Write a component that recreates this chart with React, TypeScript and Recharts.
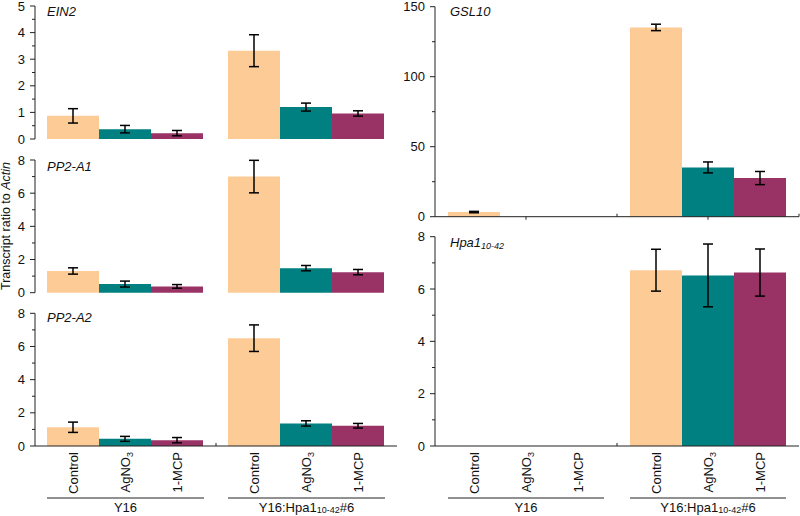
import React from 'react';
import { BarChart, Bar, XAxis, YAxis, ErrorBar } from 'recharts';

// ---- data ----
const GROUPS = ['Y16', 'Y16:Hpa1_10-42#6'];
const GROUP_LABEL_PARTS = [['Y16', '', ''], ['Y16:Hpa1', '10-42', '#6']];
const TREATMENTS = ['Control', 'AgNO3', '1-MCP'];
const COLORS = ['#FCCB96', '#008080', '#993366'];

const EIN2_Y16 = [0.87, 0.37, 0.22];
const EIN2_Y16_SD = [0.27, 0.14, 0.1];
const EIN2_HPA = [3.32, 1.2, 0.96];
const EIN2_HPA_SD = [0.6, 0.15, 0.1];

const PP2A1_Y16 = [1.31, 0.52, 0.38];
const PP2A1_Y16_SD = [0.19, 0.18, 0.11];
const PP2A1_HPA = [7.0, 1.48, 1.24];
const PP2A1_HPA_SD = [0.98, 0.16, 0.16];

const PP2A2_Y16 = [1.13, 0.43, 0.35];
const PP2A2_Y16_SD = [0.31, 0.15, 0.16];
const PP2A2_HPA = [6.5, 1.36, 1.22];
const PP2A2_HPA_SD = [0.8, 0.16, 0.14];

const GSL10_Y16 = [3.3, null, null];
const GSL10_Y16_SD = [0.5, null, null];
const GSL10_HPA = [135.2, 35.2, 27.6];
const GSL10_HPA_SD = [2.3, 3.9, 4.7];

const HPA1_Y16 = [null, null, null];
const HPA1_Y16_SD = [null, null, null];
const HPA1_HPA = [6.72, 6.52, 6.63];
const HPA1_HPA_SD = [0.8, 1.2, 0.9];

const TICKS_5 = [0, 0.5, 1, 1.5, 2, 2.5, 3, 3.5, 4, 4.5, 5];
const TICKS_8 = [0, 1, 2, 3, 4, 5, 6, 7, 8];
const TICKS_150 = [0, 25, 50, 75, 100, 125, 150];

function buildRows(y16: any[], y16sd: any[], hpa: any[], hpasd: any[]) {
  return [
    { group: GROUPS[0], v0: y16[0], v1: y16[1], v2: y16[2], e0: y16sd[0], e1: y16sd[1], e2: y16sd[2] },
    { group: GROUPS[1], v0: hpa[0], v1: hpa[1], v2: hpa[2], e0: hpasd[0], e1: hpasd[1], e2: hpasd[2] },
  ];
}

const FONT = '"Liberation Sans", Arial, Helvetica, sans-serif';
const AXIS = '#222';

function YTick(props: any) {
  const { x, y, payload, majorStep } = props;
  const v = payload.value;
  const major = Math.abs(v / majorStep - Math.round(v / majorStep)) < 1e-6;
  const ax = x + 10;
  return (
    <g>
      <line x1={ax - (major ? 5 : 3)} x2={ax} y1={y} y2={y} stroke={AXIS} strokeWidth={1} />
      {major && (
        <text x={x} y={y} dy="0.35em" textAnchor="end" fontSize={13} fill="#111" fontFamily={FONT}>
          {v}
        </text>
      )}
    </g>
  );
}

function GroupTick(props: any) {
  const { x, y, index, band, gap, labels, centerTick } = props;
  const barW = (band - 2 * gap) / 3;
  const parts = GROUP_LABEL_PARTS[index];
  return (
    <g>
      {index === 0 && <line x1={x + band / 2} x2={x + band / 2} y1={y} y2={y - 3} stroke={AXIS} />}
      {index === 1 && centerTick && <line x1={x + band / 2} x2={x + band / 2} y1={y} y2={y - 3} stroke={AXIS} />}
      {centerTick && <line x1={x} x2={x} y1={y} y2={y + 3} stroke={AXIS} />}
      {labels &&
        TREATMENTS.map((t, i) => {
          const cx = x + (i - 1) * barW + 4.5;
          const cy = y + 6;
          return (
            <text
              key={t}
              x={cx}
              y={cy}
              transform={`rotate(-90 ${cx} ${cy})`}
              textAnchor="end"
              fontSize={13}
              fill="#111"
              fontFamily={FONT}
            >
              {t === 'AgNO3' ? (
                <>
                  AgNO<tspan fontSize={9} dy={3}>3</tspan>
                </>
              ) : (
                t
              )}
            </text>
          );
        })}
      {labels && (
        <line x1={x - 1.5 * barW} x2={x + 1.5 * barW} y1={y + 52} y2={y + 52} stroke={AXIS} strokeWidth={1} />
      )}
      {labels && (
        <text x={x} y={y + 65.5} textAnchor="middle" fontSize={13} fill="#111" fontFamily={FONT}>
          {parts[0]}
          {parts[1] && (
            <tspan fontSize={9} dy={1.5}>
              {parts[1]}
            </tspan>
          )}
          {parts[2] && <tspan dy={-1.5}>{parts[2]}</tspan>}
        </text>
      )}
    </g>
  );
}

function Panel(props: any) {
  const { left, top, width, height, margin, data, domain, ticks, majorStep, xMode, band, gap } = props;
  return (
    <div style={{ position: 'absolute', left, top, width, height }}>
      <BarChart width={width} height={height} data={data} margin={margin} barCategoryGap={gap} barGap={0}>
        {xMode === 'hide' ? (
          <XAxis dataKey="group" hide />
        ) : (
          <XAxis
            dataKey="group"
            interval={0}
            tickLine={false}
            tickSize={0}
            tickMargin={0}
            height={xMode === 'labels' ? 70 : 8.3}
            axisLine={{ stroke: AXIS }}
            tick={(p: any) => (
              <GroupTick {...p} band={band} gap={gap} labels={xMode === 'labels'} centerTick={xMode === 'ticks'} />
            )}
          />
        )}
        <YAxis
          type="number"
          domain={domain}
          ticks={ticks}
          interval={0}
          width={35}
          tickLine={false}
          tickSize={5}
          tickMargin={5}
          axisLine={{ stroke: AXIS }}
          tick={(p: any) => <YTick {...p} majorStep={majorStep} />}
        />
        {[0, 1, 2].map((i) => (
          <Bar key={i} dataKey={`v${i}`} fill={COLORS[i]} isAnimationActive={false}>
            <ErrorBar dataKey={`e${i}`} width={5} stroke="#000" strokeWidth={1.5} isAnimationActive={false} />
          </Bar>
        ))}
      </BarChart>
    </div>
  );
}

export default function App() {
  return (
    <div style={{ position: 'absolute', left: 0, top: 0, width: 800, height: 516, background: '#fff', fontFamily: FONT }}>
      <Panel
        left={0} top={0} width={400} height={150}
        margin={{ top: 6, right: 3, bottom: 11, left: 0 }}
        data={buildRows(EIN2_Y16, EIN2_Y16_SD, EIN2_HPA, EIN2_HPA_SD)}
        domain={[0, 5]} ticks={TICKS_5} majorStep={1} xMode="hide" band={181} gap={12}
      />
      <Panel
        left={0} top={150} width={400} height={155}
        margin={{ top: 10, right: 3, bottom: 12.3, left: 0 }}
        data={buildRows(PP2A1_Y16, PP2A1_Y16_SD, PP2A1_HPA, PP2A1_HPA_SD)}
        domain={[0, 8]} ticks={TICKS_8} majorStep={2} xMode="hide" band={181} gap={12}
      />
      <Panel
        left={0} top={300} width={400} height={216}
        margin={{ top: 13.3, right: 3, bottom: 0, left: 0 }}
        data={buildRows(PP2A2_Y16, PP2A2_Y16_SD, PP2A2_HPA, PP2A2_HPA_SD)}
        domain={[0, 8]} ticks={TICKS_8} majorStep={2} xMode="labels" band={181} gap={12}
      />
      <Panel
        left={400} top={0} width={400} height={225}
        margin={{ top: 6.7, right: 1, bottom: 0, left: 0 }}
        data={buildRows(GSL10_Y16, GSL10_Y16_SD, GSL10_HPA, GSL10_HPA_SD)}
        domain={[0, 150]} ticks={TICKS_150} majorStep={50} xMode="ticks" band={182} gap={13}
      />
      <Panel
        left={400} top={225} width={400} height={291}
        margin={{ top: 11.7, right: 1, bottom: 0, left: 0 }}
        data={buildRows(HPA1_Y16, HPA1_Y16_SD, HPA1_HPA, HPA1_HPA_SD)}
        domain={[0, 8]} ticks={TICKS_8} majorStep={2} xMode="labels" band={182} gap={13}
      />
      <svg width={800} height={516} style={{ position: 'absolute', left: 0, top: 0, pointerEvents: 'none' }}>
        <g fontFamily={FONT} fontSize={13} fontStyle="italic" fill="#111">
          <text x={47} y={15.5}>EIN2</text>
          <text x={47} y={170.5}>PP2-A1</text>
          <text x={47} y={322}>PP2-A2</text>
          <text x={450} y={15.5}>GSL10</text>
          <text x={450} y={247}>
            Hpa1<tspan fontSize={9} dy={2}>10-42</tspan>
          </text>
        </g>
        <text
          x={9.5}
          y={226}
          transform="rotate(-90 9.5 226)"
          textAnchor="middle"
          fontFamily={FONT}
          fontSize={12.5}
          fill="#111"
        >
          Transcript ratio to <tspan fontStyle="italic">Actin</tspan>
        </text>
      </svg>
    </div>
  );
}
